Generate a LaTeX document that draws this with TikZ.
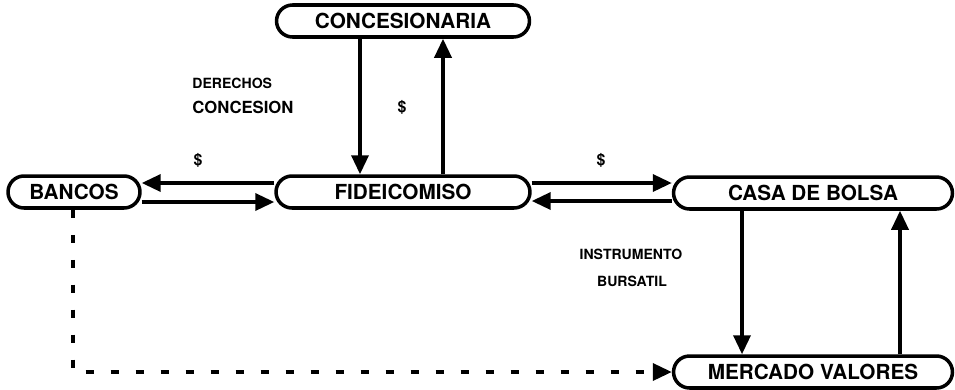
\documentclass[tikz,border=0pt]{standalone}
\usepackage{fontspec}
\setmainfont{TeX Gyre Heros}
\usetikzlibrary{arrows.meta}
\begin{document}
\begin{tikzpicture}[x=0.02cm,y=-0.02cm,
  box/.style={draw,line width=2pt,rounded corners=0.32cm,minimum height=0.64cm,inner sep=0pt,font=\bfseries\fontsize{11.8}{14}\selectfont},
  conn/.style={line width=2pt,-{Triangle[length=0.38cm,width=0.34cm]}},
  lbl/.style={font=\bfseries\fontsize{8}{9}\selectfont,inner sep=0pt},
  dolar/.style={font=\bfseries\fontsize{9}{10}\selectfont,inner sep=0pt}]
\useasboundingbox (0,0) rectangle (955,389);
\node[box,minimum width=5.06cm] (con) at (403,21) {CONCESIONARIA};
\node[box,minimum width=2.64cm] (ban) at (74,192) {BANCOS};
\node[box,minimum width=5.08cm] (fid) at (403,192) {FIDEICOMISO};
\node[box,minimum width=5.58cm] (cas) at (813,193) {CASA DE BOLSA};
\node[box,minimum width=5.58cm] (mer) at (813,372) {MERCADO VALORES};
\draw[conn] (con.south -| 360,0) -- (fid.north -| 360,0);
\draw[conn] (fid.north -| 443,0) -- (con.south -| 443,0);
\draw[conn] (fid.west |- 0,183) -- (ban.east |- 0,183);
\draw[conn] (ban.east |- 0,202) -- (fid.west |- 0,202);
\draw[conn] (fid.east |- 0,183) -- (cas.west |- 0,183);
\draw[conn] (cas.west |- 0,201) -- (fid.east |- 0,201);
\draw[conn] (cas.south -| 742,0) -- (mer.north -| 742,0);
\draw[conn] (mer.north -| 900,0) -- (cas.south -| 900,0);
\draw[line width=2pt,dash pattern=on 0.16cm off 0.34cm,-{Triangle[length=0.38cm,width=0.34cm]}] (ban.south -| 73,0) |- (mer.west);
\node[lbl,anchor=west] (l1) at (192,83) {DERECHOS};
\node[lbl,anchor=west,font=\bfseries\fontsize{9.5}{10}\selectfont] (l2) at (192,107) {CONCESION};
\node[dolar] (d1) at (402,107) {\$};
\node[dolar] (d2) at (198,160) {\$};
\node[dolar] (d3) at (601,160) {\$};
\node[lbl] (l3) at (631,254) {INSTRUMENTO};
\node[lbl] (l4) at (632,281) {BURSATIL};
\end{tikzpicture}
\end{document}
